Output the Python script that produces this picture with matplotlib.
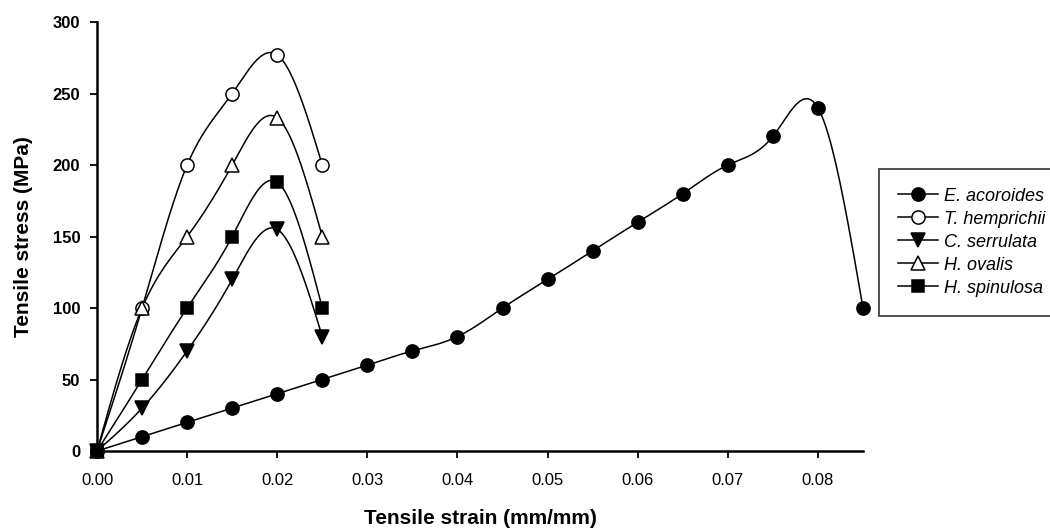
import numpy as np
import matplotlib.pyplot as plt

plt.rcParams['font.family'] = ['Liberation Sans', 'DejaVu Sans']

# strain values (mm/mm)
strain_long = [0.0, 0.005, 0.01, 0.015, 0.02, 0.025, 0.03, 0.035, 0.04,
               0.045, 0.05, 0.055, 0.06, 0.065, 0.07, 0.075, 0.08, 0.085]
strain_short = [0.0, 0.005, 0.01, 0.015, 0.02, 0.025]

# stress values (MPa)
e_acoroides = [0, 10, 20, 30, 40, 50, 60, 70, 80, 100, 120, 140, 160, 180, 200, 220, 240, 100]
t_hemprichii = [0, 100, 200, 250, 277, 200]
c_serrulata = [0, 30, 70, 120, 155, 80]
h_ovalis = [0, 100, 150, 200, 233, 150]
h_spinulosa = [0, 50, 100, 150, 188, 100]

species = ['E. acoroides', 'T. hemprichii', 'C. serrulata', 'H. ovalis', 'H. spinulosa']


def natural_spline(x, y, n=400):
    """Natural cubic spline through the points (no scipy needed)."""
    x = np.asarray(x, float)
    y = np.asarray(y, float)
    m = len(x)
    h = np.diff(x)
    A = np.zeros((m, m))
    b = np.zeros(m)
    A[0, 0] = A[-1, -1] = 1
    for i in range(1, m - 1):
        A[i, i - 1] = h[i - 1]
        A[i, i] = 2 * (h[i - 1] + h[i])
        A[i, i + 1] = h[i]
        b[i] = 6 * ((y[i + 1] - y[i]) / h[i] - (y[i] - y[i - 1]) / h[i - 1])
    M = np.linalg.solve(A, b)
    xs = np.linspace(x[0], x[-1], n)
    idx = np.clip(np.searchsorted(x, xs) - 1, 0, m - 2)
    x0, x1 = x[idx], x[idx + 1]
    hh = x1 - x0
    t0, t1 = x1 - xs, xs - x0
    ys = (M[idx] * t0**3 + M[idx + 1] * t1**3) / (6 * hh) \
        + (y[idx] / hh - M[idx] * hh / 6) * t0 \
        + (y[idx + 1] / hh - M[idx + 1] * hh / 6) * t1
    return xs, ys


series = [
    (strain_long, e_acoroides, 'o', 'black'),
    (strain_short, t_hemprichii, 'o', 'white'),
    (strain_short, c_serrulata, 'v', 'black'),
    (strain_short, h_ovalis, '^', 'white'),
    (strain_short, h_spinulosa, 's', 'black'),
]

fig = plt.figure(figsize=(10.5, 5.29), dpi=100)
ax = fig.add_axes([0.0924, 0.1474, 0.7295, 0.811])

handles = []
for (x, y, mk, fc), name in zip(series, species):
    xs, ys = natural_spline(x, y)
    ax.plot(xs, ys, color='black', lw=1.1, zorder=2, clip_on=False)
    ms = 8.5 if mk == 's' else 9.5
    ax.plot(x, y, ls='none', marker=mk, ms=ms, mfc=fc, mec='black', mew=1.1, zorder=3,
            clip_on=False)
    h, = ax.plot([], [], color='black', lw=1.1, marker=mk, ms=ms, mfc=fc, mec='black', mew=1.1)
    handles.append(h)

ax.set_xlim(0, 0.085)
ax.set_ylim(0, 300)
ticks = np.arange(0, 0.081, 0.01)
ax.set_xticks(ticks)
ax.set_xticklabels([f'{v:.2f}' for v in ticks])
ax.set_yticks(range(0, 301, 50))

for s in ['top', 'right']:
    ax.spines[s].set_visible(False)
for s in ['left', 'bottom']:
    ax.spines[s].set_linewidth(1.8)

ax.tick_params(direction='out', length=5, width=1.3, labelsize=12)
ax.tick_params(axis='x', pad=11)
ax.tick_params(axis='y', pad=7)
for lab in ax.get_yticklabels():
    lab.set_fontweight('bold')

ax.set_xlabel('Tensile strain (mm/mm)', fontsize=15, fontweight='bold', labelpad=15)
ax.set_ylabel('Tensile stress (MPa)', fontsize=15, fontweight='bold', labelpad=14)

leg = fig.legend(handles, species, loc='upper left', bbox_to_anchor=(0.837, 0.681),
                 prop={'style': 'italic', 'size': 13}, frameon=True, fancybox=False,
                 edgecolor='black', handlelength=2.2, labelspacing=0.33,
                 borderpad=1.05, handletextpad=0.35, borderaxespad=0)
leg.get_frame().set_linewidth(1.2)

fig.savefig('out.png', dpi=100)
